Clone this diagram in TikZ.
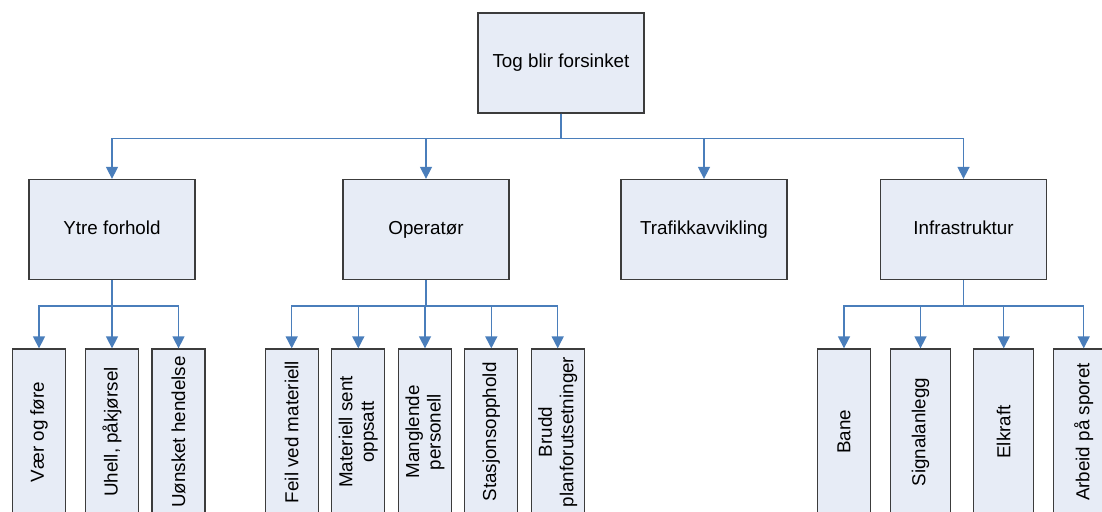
\documentclass[tikz,border=0pt]{standalone}
\usepackage{fontspec}
\setmainfont{Liberation Sans}
\usetikzlibrary{arrows.meta}
\definecolor{boxfill}{HTML}{E7ECF6}
\definecolor{boxline}{HTML}{3C3C3C}
\definecolor{conn}{HTML}{4A7EBB}
\tikzset{
  box/.style={draw=boxline, line width=1.3pt, fill=boxfill, minimum width=166pt, minimum height=100pt, inner sep=0pt, align=center, text height=13.6pt, text depth=4pt, font=\fontsize{18.8}{21.5}\selectfont},
  leaf/.style={draw=boxline, line width=1.3pt, fill=boxfill, minimum width=166pt, minimum height=53pt, inner sep=0pt, align=center, rotate=90, font=\fontsize{18.8}{21.5}\selectfont},
  conn/.style={draw=conn, line width=1.5pt, -{Triangle[length=12pt,width=12pt]}},
}
\begin{document}
\begin{tikzpicture}[x=1pt,y=-1pt]
\useasboundingbox (0,0) rectangle (1102,511);
\clip (0,0) rectangle (1102,511);
% top
\node[box] (top) at (561,63) {Tog blir forsinket};
% level 2
\node[box] (ytre) at (112,229.5) {Ytre forhold};
\node[box] (oper) at (426,229.5) {Operatør};
\node[box] (traf) at (704,229.5) {Trafikkavvikling};
\node[box] (infra) at (963.5,229.5) {Infrastruktur};
% level 3
\node[leaf] (vaer) at (39,432) {Vær og føre};
\node[leaf] (uhell) at (112,432) {Uhell, påkjørsel};
\node[leaf] (uonsk) at (178.5,432) {Uønsket hendelse};
\node[leaf] (feil) at (291.7,432) {Feil ved materiell};
\node[leaf] (msent) at (358.3,432) {Materiell sent\\oppsatt};
\node[leaf] (mangl) at (425,432) {Manglende\\personell};
\node[leaf] (stasj) at (491.3,432) {Stasjonsopphold};
\node[leaf] (brudd) at (557.7,432) {Brudd\\planforutsetninger};
\node[leaf] (bane) at (844,432) {Bane};
\node[leaf, minimum height=60pt] (sign) at (920.5,432) {Signalanlegg};
\node[leaf, minimum height=60pt] (elk) at (1003.7,432) {Elkraft};
\node[leaf, minimum height=60pt] (arb) at (1083.7,432) {Arbeid på sporet};
% connectors
\foreach \c in {ytre,oper,traf,infra}
  \draw[conn] (top.south) -- ++(0,25) -| (\c.north);
\foreach \c in {vaer,uhell,uonsk}
  \draw[conn] (ytre.south) -- ++(0,26) -| (\c.east);
\foreach \c in {feil,msent,mangl,stasj,brudd}
  \draw[conn] (oper.south) -- ++(0,26) -| (\c.east);
\foreach \c in {bane,sign,elk,arb}
  \draw[conn] (infra.south) -- ++(0,26) -| (\c.east);
\end{tikzpicture}
\end{document}
